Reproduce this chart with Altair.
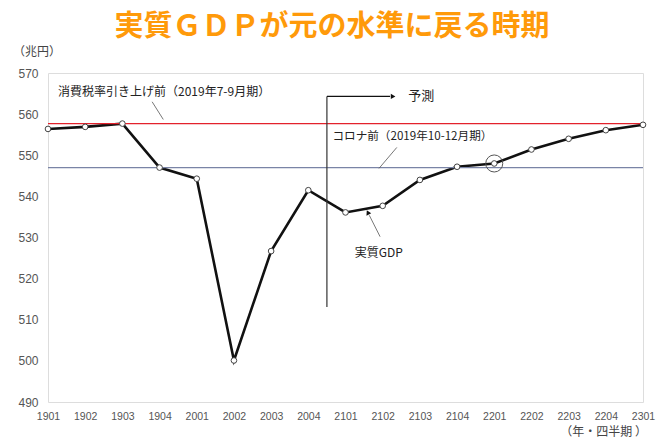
import altair as alt
import pandas as pd

# ---- data ----
quarters = ["1901", "1902", "1903", "1904", "2001", "2002", "2003", "2004",
            "2101", "2102", "2103", "2104", "2201", "2202", "2203", "2204", "2301"]
gdp = [556.4, 556.9, 557.7, 547.0, 544.3, 500.1, 526.7, 541.5,
       536.1, 537.7, 544.0, 547.2, 548.0, 551.4, 554.0, 556.1, 557.4]
pre_tax_level = 557.7     # 消費税率引き上げ前（2019年7-9月期）
pre_covid_level = 547.0   # コロナ前（2019年10-12月期）
y_ticks = [490, 500, 510, 520, 530, 540, 550, 560, 570]

title_text = "実質ＧＤＰが元の水準に戻る時期"
y_unit = "（兆円）"
x_unit = "（年・四半期 ）"

FONT = "Noto Sans CJK JP"
N = len(quarters)

df = pd.DataFrame({"idx": list(range(N)), "q": quarters, "gdp": gdp})

label_arr = "[" + ",".join(f"'{q}'" for q in quarters) + "]"

x_enc = alt.X("idx:Q", scale=alt.Scale(domain=[0, N - 1], nice=False, zero=False),
              axis=alt.Axis(values=list(range(N)), labelExpr=f"{label_arr}[datum.value]",
                            grid=False, ticks=False, domain=False, title=None,
                            labelColor="#555555", labelFont="Liberation Sans", labelFontSize=10.5,
                            labelPadding=9, labelFlush=False, labelOverlap=False))
y_enc = alt.Y("gdp:Q", scale=alt.Scale(domain=[490, 570], nice=False, zero=False),
              axis=alt.Axis(values=y_ticks, grid=False, ticks=False, domain=False, title=None,
                            labelColor="#555555", labelFont="Liberation Sans", labelFontSize=12,
                            labelPadding=10))

# reference lines
tax_df = pd.DataFrame({"gdp": [pre_tax_level]})
covid_df = pd.DataFrame({"gdp": [pre_covid_level]})
red_rule = alt.Chart(tax_df).mark_rule(color="#E3222C", strokeWidth=1.2).encode(y=y_enc)
gray_rule = alt.Chart(covid_df).mark_rule(color="#7A84A6", strokeWidth=1.1).encode(y=y_enc)

# forecast divider, arrows and leader lines
seg_df = pd.DataFrame({
    "idx": [7.5, 7.5, 2.80, 9.38, 8.93],
    "x2": [7.5, 9.20, 3.10, 8.90, 8.64],
    "gdp": [564.3, 564.3, 563.0, 551.9, 530.2],
    "y2": [513.1, 564.3, 558.7, 546.8, 535.4],
    "w": [1.2, 1.2, 0.8, 0.8, 0.8],
    "c": ["#333333", "#111111", "#555555", "#555555", "#555555"],
})
segs = alt.Chart(seg_df).mark_rule().encode(
    x=x_enc, x2="x2:Q", y=y_enc, y2="y2:Q",
    strokeWidth=alt.StrokeWidth("w:Q", scale=None),
    color=alt.Color("c:N", scale=None))

head_df = pd.DataFrame({"idx": [9.28, 8.60], "gdp": [564.3, 536.1], "ang": [90, 333]})
heads = alt.Chart(head_df).mark_point(shape="triangle-up", filled=True, color="#111111", size=28,
                                      opacity=1).encode(
    x=x_enc, y=y_enc, angle=alt.Angle("ang:Q", scale=None))

base = alt.Chart(df)
line = base.mark_line(color="#111111", strokeWidth=2.6).encode(x=x_enc, y=y_enc)
pts = base.mark_point(shape="circle", filled=True, fill="white", stroke="#444444",
                      strokeWidth=1, size=32, opacity=1).encode(x=x_enc, y=y_enc)

hl_df = pd.DataFrame({"idx": [12], "gdp": [gdp[12]]})
highlight = alt.Chart(hl_df).mark_point(shape="circle", filled=False, stroke="#555555",
                                         strokeWidth=1, size=290, opacity=1).encode(x=x_enc, y=y_enc)

ann_df = pd.DataFrame({
    "idx": [0.27, 7.65, 9.69, 8.25],
    "gdp": [565.4, 554.5, 564.3, 526.3],
    "t": ["消費税率引き上げ前（2019年7-9月期）", "コロナ前（2019年10-12月期）", "予測", "実質GDP"],
    "s": [12, 11.6, 13, 12],
})
ann = alt.Chart(ann_df).mark_text(align="left", baseline="middle", font=FONT, color="#222222").encode(
    x=x_enc, y=y_enc, text="t:N", size=alt.Size("s:Q", scale=None))

# title and unit labels (pixel offsets relative to plot area)
lab_df = pd.DataFrame({"t": [title_text, y_unit, x_unit]})
title_mark = alt.Chart(lab_df.iloc[[0]]).mark_text(
    font=FONT, fontSize=29, fontWeight="bold", color="#FF9A0A", align="center", baseline="alphabetic"
).encode(x=alt.value(284), y=alt.value(-37), text="t:N")
yunit_mark = alt.Chart(lab_df.iloc[[1]]).mark_text(
    font=FONT, fontSize=12, color="#444444", align="center", baseline="middle"
).encode(x=alt.value(-11), y=alt.value(-21), text="t:N")
xunit_mark = alt.Chart(lab_df.iloc[[2]]).mark_text(
    font=FONT, fontSize=12, color="#444444", align="right", baseline="middle"
).encode(x=alt.value(599), y=alt.value(359), text="t:N")

chart = alt.layer(
    line, red_rule, gray_rule, segs, heads, pts, highlight, ann,
    title_mark, yunit_mark, xunit_mark
).properties(
    width=595, height=329,
    padding={"left": 40, "top": 65, "right": 16, "bottom": 37},
    autosize=alt.AutoSizeParams(type="none"),
).configure_view(stroke="#8A8A8A", strokeWidth=1.5).configure(background="white")

chart.save("out.html", embed_options={"renderer": "svg", "actions": False})
